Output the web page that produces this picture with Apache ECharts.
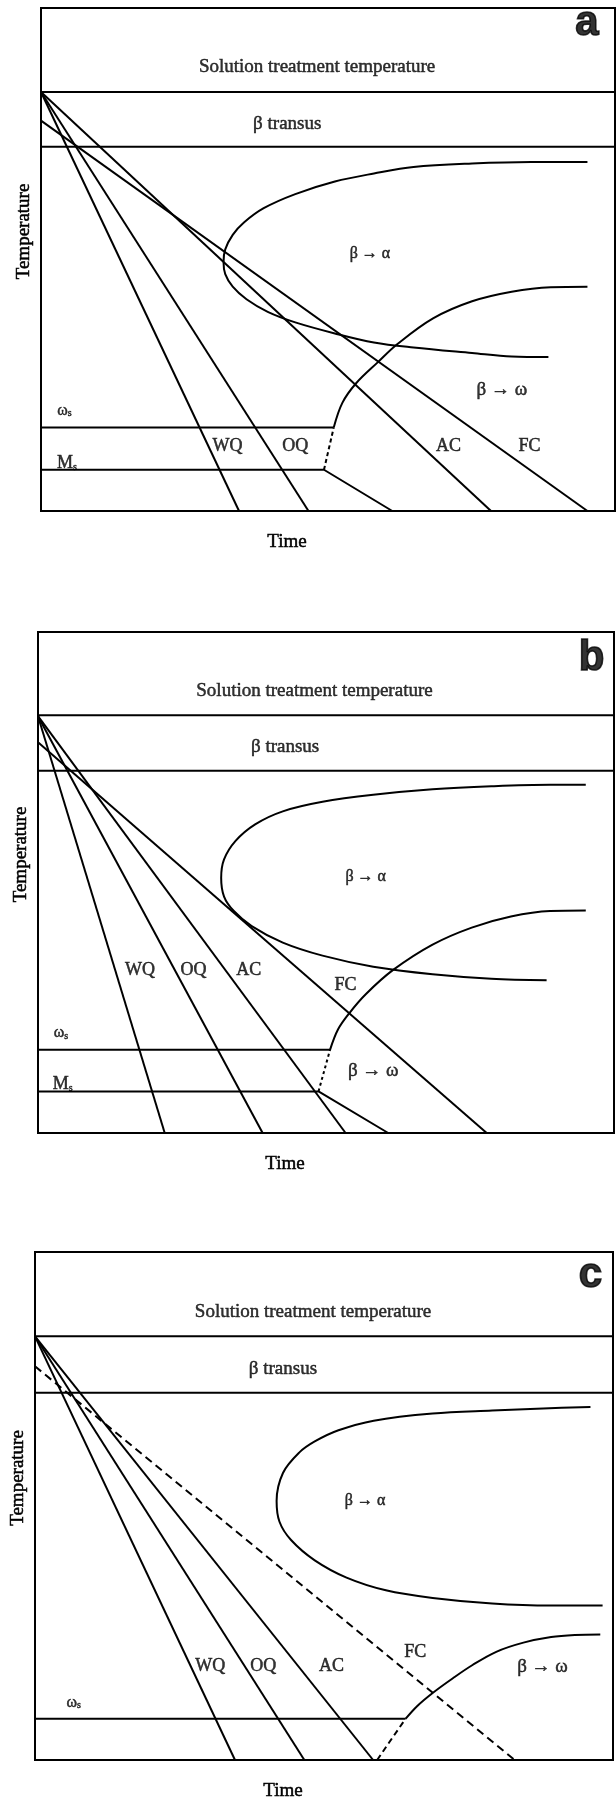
<!DOCTYPE html>
<html><head><meta charset="utf-8">
<script src="https://cdn.jsdelivr.net/npm/echarts@6/dist/echarts.min.js"></script>
<style>html,body{margin:0;padding:0;background:#fff}#c{width:616px;height:1803px}</style>
</head><body><div id="c"></div>
<script>
// ---------- data (time and temperature in arbitrary 0-100 units) ----------
// Panel a
const aSolution = [[0, 83.3], [100, 83.3]];
const aTransus = [[0, 72.4], [100, 72.4]];
const aWQ = [[0, 83.3], [34.5, 0]];
const aOQ = [[0, 83.3], [46.6, 0]];
const aAC = [[0, 83.3], [78.4, 0]];
const aFC = [[0, 77.6], [95.2, 0]];
const aOmegaS = [[0, 16.6], [51.0, 16.6]];
const aMs = [[0, 8.2], [49.3, 8.2], [61.2, 0]];
const aOmegaDash = [[49.3, 8.2], [51.0, 16.6]];
const aOmegaCurve = [[51.0, 16.6], [52.5, 21.5], [54.9, 25.4], [58.7, 29.6], [62.1, 33.2], [68.3, 38.3], [75.1, 41.7], [82.0, 43.6], [88.8, 44.5], [95.2, 44.6]];
const aAlphaCurve = [[88.4, 30.6], [82.0, 30.7], [75.1, 31.4], [64.9, 32.5], [58.0, 33.5], [51.2, 35.3], [44.3, 37.5], [39.5, 39.6], [35.8, 42.1], [33.4, 44.6], [32.1, 47.1], [31.8, 49.5], [32.1, 52.0], [33.4, 54.9], [35.4, 57.4], [38.8, 60.2], [44.3, 63.0], [51.2, 65.5], [58.0, 67.1], [64.9, 68.4], [75.1, 69.1], [85.4, 69.4], [95.2, 69.4]];
const aLabels = [
  [48.1, 88.3, 'Solution treatment temperature'], [42.9, 77.0, 'β transus'], [95.1, 97.0, 'a'],
  [57.3, 51.2, 'β → α'], [80.3, 24.0, 'β → ω'], [4.1, 20.8, 'ωs'], [4.5, 10.1, 'Ms'],
  [32.5, 12.9, 'WQ'], [44.3, 12.9, 'OQ'], [71.0, 12.9, 'AC'], [85.1, 12.9, 'FC']
];

// Panel b
const bSolution = [[0, 83.4], [100, 83.4]];
const bTransus = [[0, 72.3], [100, 72.3]];
const bWQ = [[0, 83.2], [22.0, 0]];
const bOQ = [[0, 83.2], [39.0, 0]];
const bAC = [[0, 83.2], [53.4, 0]];
const bFC = [[0, 78.0], [77.9, 0]];
const bOmegaS = [[0, 16.6], [50.7, 16.6]];
const bMs = [[0, 8.3], [48.7, 8.3], [60.8, 0]];
const bOmegaDash = [[48.7, 8.3], [50.7, 16.6]];
const bOmegaCurve = [[50.7, 16.6], [52.1, 20.7], [54.1, 24.0], [56.9, 27.7], [61.6, 32.5], [68.5, 37.6], [75.3, 41.0], [82.1, 43.2], [88.9, 44.3], [95.1, 44.4]];
const bAlphaCurve = [[88.3, 30.5], [78.7, 30.8], [68.5, 31.7], [58.2, 33.2], [49.4, 35.4], [42.5, 38.0], [37.1, 41.3], [34.0, 44.3], [32.3, 47.2], [31.8, 50.9], [32.3, 54.6], [34.3, 58.3], [37.7, 61.6], [42.5, 64.2], [49.4, 66.1], [58.2, 67.5], [68.5, 68.6], [78.7, 69.2], [88.9, 69.5], [95.1, 69.5]];
const bLabels = [
  [48.0, 88.3, 'Solution treatment temperature'], [42.9, 77.0, 'β transus'], [96.1, 94.8, 'b'],
  [56.9, 51.1, 'β → α'], [58.2, 12.4, 'β → ω'], [4.0, 20.7, 'ωs'], [4.3, 10.3, 'Ms'],
  [17.7, 32.5, 'WQ'], [27.0, 32.5, 'OQ'], [36.6, 32.5, 'AC'], [53.4, 29.5, 'FC']
];

// Panel c
const cSolution = [[0, 83.4], [100, 83.4]];
const cTransus = [[0, 72.3], [100, 72.3]];
const cWQ = [[0, 83.4], [34.6, 0]];
const cOQ = [[0, 83.4], [46.6, 0]];
const cAC = [[0, 83.4], [58.5, 0]];
const cFC = [[0, 77.5], [83.0, 0]];
const cOmegaS = [[0, 8.1], [64.1, 8.1]];
const cOmegaDash = [[59.2, 0], [61.0, 3.0], [64.1, 8.1]];
const cOmegaCurve = [[64.1, 8.1], [66.1, 10.6], [68.8, 13.2], [72.3, 16.1], [75.7, 18.7], [79.8, 21.3], [84.5, 23.1], [89.3, 24.2], [93.4, 24.6], [97.8, 24.7]];
const cAlphaCurve = [[98.2, 30.4], [89.3, 30.4], [79.1, 30.8], [68.8, 31.9], [60.7, 33.4], [53.9, 35.9], [48.4, 39.3], [44.3, 43.3], [42.3, 46.9], [41.8, 51.0], [42.9, 56.5], [45.7, 60.5], [48.4, 62.7], [52.5, 64.9], [58.6, 66.8], [68.8, 68.2], [79.1, 68.8], [87.9, 69.2], [96.1, 69.5]];
const cLabels = [
  [48.1, 88.2, 'Solution treatment temperature'], [42.9, 76.9, 'β transus'], [96.1, 95.3, 'c'],
  [57.1, 51.0, 'β → α'], [87.8, 18.3, 'β → ω'], [6.7, 12.1, 'ωs'],
  [30.3, 18.5, 'WQ'], [39.5, 18.5, 'OQ'], [51.3, 18.5, 'AC'], [65.8, 21.3, 'FC']
];

const axisTitles = ['Time', 'Temperature'];

// ---------- rendering ----------
const SERIF = "'Liberation Serif', 'Times New Roman', serif";
const SANS = "'Liberation Sans', Arial, sans-serif";
const INK = { color: '#000', textBorderColor: '#000', textBorderWidth: 0.5 };
const grids = [
  { left: 41, top: 8, width: 574, height: 503 },
  { left: 38, top: 632, width: 576, height: 501 },
  { left: 35, top: 1252, width: 578, height: 508 }
];

function seg(data, g, type) {
  return { type: 'line', xAxisIndex: g, yAxisIndex: g, data: data, symbol: 'none', silent: true,
    animation: false, z: 2, lineStyle: { color: '#000', width: 2, type: type || 'solid' } };
}
function curve(data, g) { const s = seg(data, g); s.smooth = 0.35; return s; }

function labelStyle(t) {
  if (t === 'a' || t === 'b' || t === 'c') return { fontFamily: SANS, fontWeight: 900, fontSize: 42, textBorderWidth: 1.6, formatter: t };
  if (t === 'ωs') return { formatter: '{m|ω}{s|s}' };
  if (t === 'Ms') return { formatter: '{M|M}{s|s}' };
  if (t === 'β → α') return { fontSize: 16, formatter: t };
  if (t === 'WQ' || t === 'OQ' || t === 'AC' || t === 'FC') return { fontSize: 18, formatter: t };
  return { fontSize: 19, formatter: t };
}
function labels(arr, g) {
  return {
    type: 'scatter', xAxisIndex: g, yAxisIndex: g, symbolSize: 0, silent: true, animation: false, z: 5,
    label: Object.assign({ show: true, position: 'inside', fontFamily: SERIF,
      rich: {
        m: Object.assign({ fontFamily: SERIF, fontSize: 16, lineHeight: 24, verticalAlign: 'bottom' }, INK),
        M: Object.assign({ fontFamily: SERIF, fontSize: 18, lineHeight: 24, verticalAlign: 'bottom' }, INK),
        s: Object.assign({ fontFamily: SERIF, fontSize: 10, lineHeight: 9, verticalAlign: 'bottom' }, INK)
      } }, INK),
    data: arr.map(function (d) {
      return { value: [d[0], d[1]], label: Object.assign({ show: true, position: 'inside' }, INK, labelStyle(d[2])) };
    })
  };
}

const panels = [
  [aSolution, aTransus, aWQ, aOQ, aAC, aFC, aOmegaS, aMs],
  [bSolution, bTransus, bWQ, bOQ, bAC, bFC, bOmegaS, bMs],
  [cSolution, cTransus, cWQ, cOQ, cAC, cOmegaS]
];
const series = [];
panels.forEach(function (lines, g) { lines.forEach(function (d) { series.push(seg(d, g)); }); });
series.push(seg(cFC, 2, [8, 5]));
series.push(seg(aOmegaDash, 0, [4, 3]));
series.push(seg(bOmegaDash, 1, [3, 3]));
series.push(seg(cOmegaDash, 2, [6, 4]));
[aOmegaCurve, bOmegaCurve, cOmegaCurve].forEach(function (d, g) { series.push(curve(d, g)); });
[aAlphaCurve, bAlphaCurve, cAlphaCurve].forEach(function (d, g) { series.push(curve(d, g)); });
[aLabels, bLabels, cLabels].forEach(function (d, g) { series.push(labels(d, g)); });

const hidden = { axisLine: { show: false }, axisTick: { show: false }, axisLabel: { show: false }, splitLine: { show: false } };
const option = {
  animation: false,
  backgroundColor: '#fff',
  grid: grids.map(function (r) { return Object.assign({ show: true, borderColor: '#000', borderWidth: 2, backgroundColor: 'transparent' }, r); }),
  xAxis: grids.map(function (r, i) {
    return Object.assign({ type: 'value', gridIndex: i, min: 0, max: 100, name: axisTitles[0], nameLocation: 'middle', nameGap: 22,
      nameTextStyle: Object.assign({ fontFamily: SERIF, fontSize: 19, padding: [0, 82, 0, 0] }, INK) }, hidden);
  }),
  yAxis: grids.map(function (r, i) {
    return Object.assign({ type: 'value', gridIndex: i, min: 0, max: 100, name: axisTitles[1], nameLocation: 'middle', nameGap: 7,
      nameTextStyle: Object.assign({ fontFamily: SERIF, fontSize: 19, padding: [0, 0, 0, 56] }, INK) }, hidden);
  }),
  series: series
};
const chart = echarts.init(document.getElementById('c'), null, { renderer: 'canvas' });
chart.setOption(option);
</script></body></html>
